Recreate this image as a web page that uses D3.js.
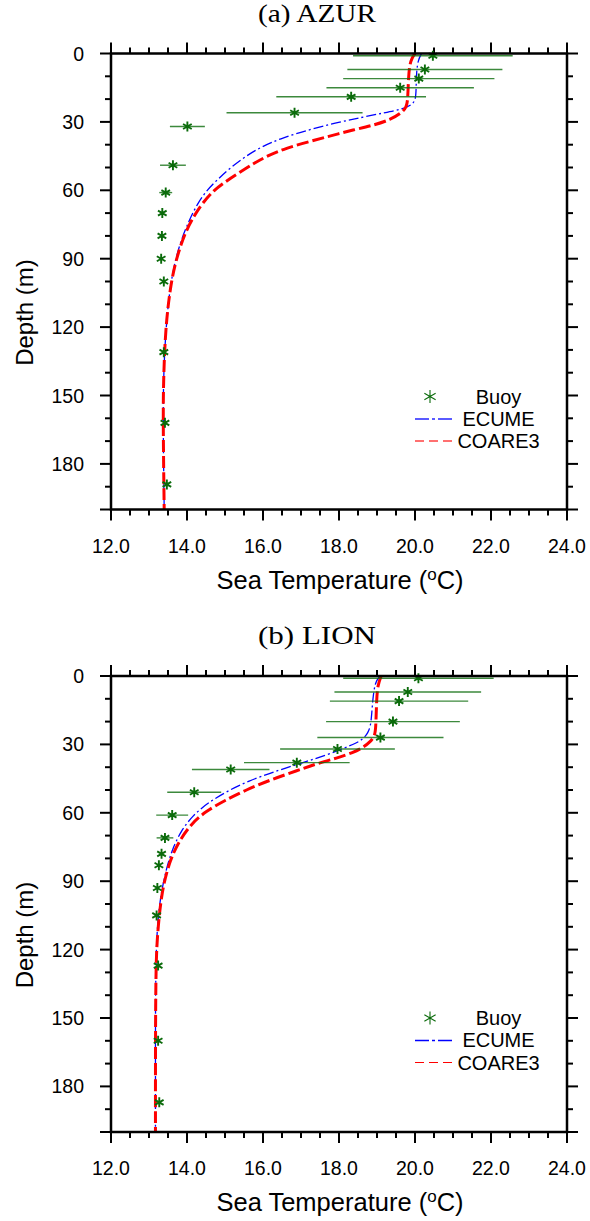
<!DOCTYPE html>
<html><head><meta charset="utf-8">
<script src="https://cdn.jsdelivr.net/npm/d3@7/dist/d3.min.js"></script>
<style>body{margin:0;background:#fff}svg{display:block}</style>
</head><body>
<script>
// ---------- data ----------
const panelTitles = ["(a) AZUR", "(b) LION"];
const xTicks = [12, 14, 16, 18, 20, 22, 24];
const yTicks = [0, 30, 60, 90, 120, 150, 180];
const seriesNames = ["Buoy", "ECUME", "COARE3"];

// AZUR buoy profile (depth m, temperature °C, std dev)
const azurBuoyDepth = [1, 7, 11, 15, 19, 26, 32, 49, 61, 70, 80, 90, 100, 131, 162, 189];
const azurBuoyTemp  = [20.47, 20.26, 20.10, 19.61, 18.32, 16.83, 14.01, 13.63, 13.44, 13.35, 13.34, 13.32, 13.39, 13.39, 13.42, 13.47];
const azurBuoyStd   = [2.10, 2.04, 1.99, 1.94, 1.97, 1.79, 0.46, 0.34, 0.17, 0, 0, 0, 0, 0, 0, 0];

// AZUR model profiles
const azurEcumeDepth = [0, 3, 8, 15, 20, 22.5, 24.5, 26, 28, 30.5, 33.5, 37, 41, 45, 50, 55, 60, 66, 73, 84, 99, 114, 130, 150, 175, 200];
const azurEcumeTemp  = [20.17, 20.08, 20.04, 20.03, 20.02, 19.93, 19.65, 19.2, 18.6, 17.9, 17.2, 16.5, 15.95, 15.55, 15.15, 14.82, 14.52, 14.27, 14.06, 13.79, 13.58, 13.48, 13.41, 13.37, 13.38, 13.40];
const azurCoareDepth = [0, 2, 5, 10, 20, 23.5, 26, 29, 31.5, 33.5, 36, 38.5, 41.5, 45, 48, 52, 56, 60, 66, 77, 92, 104, 117, 130, 150, 175, 200];
const azurCoareTemp  = [20.00, 19.92, 19.86, 19.83, 19.81, 19.78, 19.65, 19.36, 18.9, 18.38, 17.8, 17.25, 16.6, 16.1, 15.78, 15.4, 15.03, 14.7, 14.38, 13.97, 13.68, 13.55, 13.46, 13.41, 13.37, 13.38, 13.40];

// LION buoy profile
const lionBuoyDepth = [1, 7, 11, 20, 27, 32, 38, 41, 51, 61, 71, 78, 83, 93, 105, 127, 160, 187];
const lionBuoyTemp  = [20.09, 19.81, 19.58, 19.42, 19.09, 17.96, 16.89, 15.15, 14.19, 13.61, 13.42, 13.33, 13.26, 13.22, 13.20, 13.24, 13.24, 13.27];
const lionBuoyStd   = [1.98, 1.93, 1.82, 1.76, 1.66, 1.51, 1.39, 1.02, 0.71, 0.42, 0.22, 0, 0, 0, 0, 0, 0, 0];

// LION model profiles
const lionEcumeDepth = [0, 2.6, 10, 17, 22, 25, 27.5, 29.5, 31.5, 34.5, 38, 42, 46, 50.5, 55.5, 61, 68, 76, 85, 95, 107, 120, 140, 170, 200];
const lionEcumeTemp  = [19.08, 18.95, 18.89, 18.86, 18.83, 18.76, 18.64, 18.45, 18.15, 17.7, 17.05, 16.28, 15.62, 15.06, 14.56, 14.16, 13.84, 13.61, 13.45, 13.32, 13.23, 13.19, 13.17, 13.17, 13.17];
const lionCoareDepth = [0, 4, 10, 22, 26, 29, 31.5, 33.5, 36, 38.5, 41.5, 45.5, 50, 54.5, 59.5, 65, 73, 81, 92, 103, 116, 130, 160, 200];
const lionCoareTemp  = [19.11, 19.02, 18.99, 18.97, 18.95, 18.82, 18.62, 18.38, 17.95, 17.4, 16.9, 16.2, 15.55, 15.0, 14.48, 14.1, 13.77, 13.55, 13.37, 13.28, 13.21, 13.18, 13.17, 13.17];

// ---------- drawing ----------
const W = 590, H = 1221;
const svg = d3.select("body").append("svg").attr("width", W).attr("height", H);
const sans = "'Liberation Sans', Arial, Helvetica, sans-serif";
const serif = "'Liberation Serif', 'Times New Roman', serif";
const green = "#0b6b0b";

const panels = [
  {title: panelTitles[0], top: 53.5, bottom: 509.5, titleY: 22,
   buoy: {d: azurBuoyDepth, t: azurBuoyTemp, s: azurBuoyStd},
   ecume: {d: azurEcumeDepth, t: azurEcumeTemp}, coare: {d: azurCoareDepth, t: azurCoareTemp},
   legendY: 396.5, legStyle: "a"},
  {title: panelTitles[1], top: 676, bottom: 1132, titleY: 644,
   buoy: {d: lionBuoyDepth, t: lionBuoyTemp, s: lionBuoyStd},
   ecume: {d: lionEcumeDepth, t: lionEcumeTemp}, coare: {d: lionCoareDepth, t: lionCoareTemp},
   legendY: 1018, legStyle: "b"}
];

function starPath(cx, cy, r) {
  const c = Math.cos(Math.PI / 6) * r, s = Math.sin(Math.PI / 6) * r;
  return `M${cx},${cy - r}L${cx},${cy + r}M${cx - c},${cy - s}L${cx + c},${cy + s}M${cx - c},${cy + s}L${cx + c},${cy - s}`;
}

panels.forEach(p => {
  const x = d3.scaleLinear().domain([12, 24]).range([111, 567]);
  const y = d3.scaleLinear().domain([0, 200]).range([p.top, p.bottom]);
  const g = svg.append("g");

  // title
  g.append("text").attr("x", 317).attr("y", p.titleY).attr("text-anchor", "middle")
    .attr("font-family", serif).attr("font-size", 25)
    .attr("textLength", 118).attr("lengthAdjust", "spacingAndGlyphs")
    .text(p.title);

  // minor/major ticks
  const xMinor = d3.range(12, 24.001, 0.5).filter(v => Math.abs(v % 2) > 1e-6);
  const yMinor = d3.range(0, 200.001, 10).filter(v => v % 30 !== 0 && v !== 200);
  const yMajor = yTicks.concat([200]);
  const tk = g.append("g").attr("stroke", "#000").attr("stroke-width", 2);
  xTicks.forEach(v => {
    tk.append("line").attr("x1", x(v)).attr("x2", x(v)).attr("y1", p.bottom).attr("y2", p.bottom + 11);
    tk.append("line").attr("x1", x(v)).attr("x2", x(v)).attr("y1", p.top).attr("y2", p.top - 11);
  });
  xMinor.forEach(v => {
    tk.append("line").attr("x1", x(v)).attr("x2", x(v)).attr("y1", p.bottom).attr("y2", p.bottom + 6);
    tk.append("line").attr("x1", x(v)).attr("x2", x(v)).attr("y1", p.top).attr("y2", p.top - 6);
  });
  yMajor.forEach(v => {
    tk.append("line").attr("x1", 111).attr("x2", 100).attr("y1", y(v)).attr("y2", y(v));
    tk.append("line").attr("x1", 567).attr("x2", 578).attr("y1", y(v)).attr("y2", y(v));
  });
  yMinor.forEach(v => {
    tk.append("line").attr("x1", 111).attr("x2", 105).attr("y1", y(v)).attr("y2", y(v));
    tk.append("line").attr("x1", 567).attr("x2", 573).attr("y1", y(v)).attr("y2", y(v));
  });

  // tick labels
  g.append("g").selectAll("text").data(xTicks).join("text")
    .attr("x", d => x(d)).attr("y", p.bottom + 43).attr("text-anchor", "middle")
    .attr("font-family", sans).attr("font-size", 19.5).text(d => d.toFixed(1));
  g.append("g").selectAll("text").data(yTicks).join("text")
    .attr("x", 84).attr("y", d => y(d) + 7).attr("text-anchor", "end")
    .attr("font-family", sans).attr("font-size", 19.5).text(d => d);

  // axis titles
  const xt = g.append("text").attr("x", 340).attr("y", p.bottom + 79).attr("text-anchor", "middle")
    .attr("font-family", sans).attr("font-size", 25.5);
  xt.append("tspan").text("Sea Temperature (");
  xt.append("tspan").attr("dy", -9).attr("font-size", 17).text("o");
  xt.append("tspan").attr("dy", 9).text("C)");
  const cy = (p.top + p.bottom) / 2 + 31;
  g.append("text").attr("transform", `translate(33,${cy}) rotate(-90)`).attr("text-anchor", "middle")
    .attr("font-family", sans).attr("font-size", 24).text("Depth (m)");

  // clip
  const clipId = "clip" + p.legStyle;
  svg.append("clipPath").attr("id", clipId).append("rect")
    .attr("x", 111).attr("y", p.top).attr("width", 456).attr("height", p.bottom - p.top);
  const plot = g.append("g").attr("clip-path", `url(#${clipId})`);

  const line = d3.line().x(d => x(d[1])).y(d => y(d[0])).curve(d3.curveBasis);
  plot.append("path").datum(p.ecume.d.map((d, i) => [d, p.ecume.t[i]]))
    .attr("d", line).attr("fill", "none").attr("stroke", "#0000ff").attr("stroke-width", 1.3)
    .attr("stroke-dasharray", "10,3,2,3");
  plot.append("path").datum(p.coare.d.map((d, i) => [d, p.coare.t[i]]))
    .attr("d", line).attr("fill", "none").attr("stroke", "#ff0000").attr("stroke-width", 3)
    .attr("stroke-dasharray", "12,4");

  // buoy error bars and stars
  const buoy = p.buoy.d.map((d, i) => ({d, t: p.buoy.t[i], s: p.buoy.s[i]}));
  g.append("g").selectAll("line").data(buoy.filter(b => b.s > 0)).join("line")
    .attr("x1", b => x(b.t - b.s)).attr("x2", b => x(b.t + b.s))
    .attr("y1", b => y(b.d)).attr("y2", b => y(b.d))
    .attr("stroke", green).attr("stroke-width", 1.4).attr("stroke-opacity", 0.8);
  g.append("g").selectAll("path").data(buoy).join("path")
    .attr("d", b => starPath(x(b.t), y(b.d), 5))
    .attr("stroke", green).attr("stroke-width", 1.9).attr("fill", "none");

  // frame
  g.append("rect").attr("x", 111).attr("y", p.top).attr("width", 456).attr("height", p.bottom - p.top)
    .attr("fill", "none").attr("stroke", "#000").attr("stroke-width", 2.5);

  // legend
  const lg = g.append("g");
  const ly = p.legendY;
  lg.append("path").attr("d", starPath(430, ly, 6.5)).attr("stroke", green).attr("stroke-width", 1.1).attr("fill", "none");
  const thickA = p.legStyle === "a";
  lg.append("line").attr("x1", 415).attr("x2", 453).attr("y1", ly + 22.5).attr("y2", ly + 22.5)
    .attr("stroke", thickA ? "#5a5aff" : "#0000ff").attr("stroke-width", thickA ? 1.8 : 1.3).attr("stroke-dasharray", "14,3,3,3");
  lg.append("line").attr("x1", 415).attr("x2", 453).attr("y1", ly + 44.5).attr("y2", ly + 44.5)
    .attr("stroke", thickA ? "#ff7070" : "#ff0000").attr("stroke-width", thickA ? 2.2 : 1.2).attr("stroke-dasharray", "9,5");
  seriesNames.forEach((n, i) => {
    lg.append("text").attr("x", 498.5).attr("y", ly + i * 22.3 + 7).attr("text-anchor", "middle")
      .attr("font-family", sans).attr("font-size", 20).text(n);
  });
});
</script>
</body></html>
